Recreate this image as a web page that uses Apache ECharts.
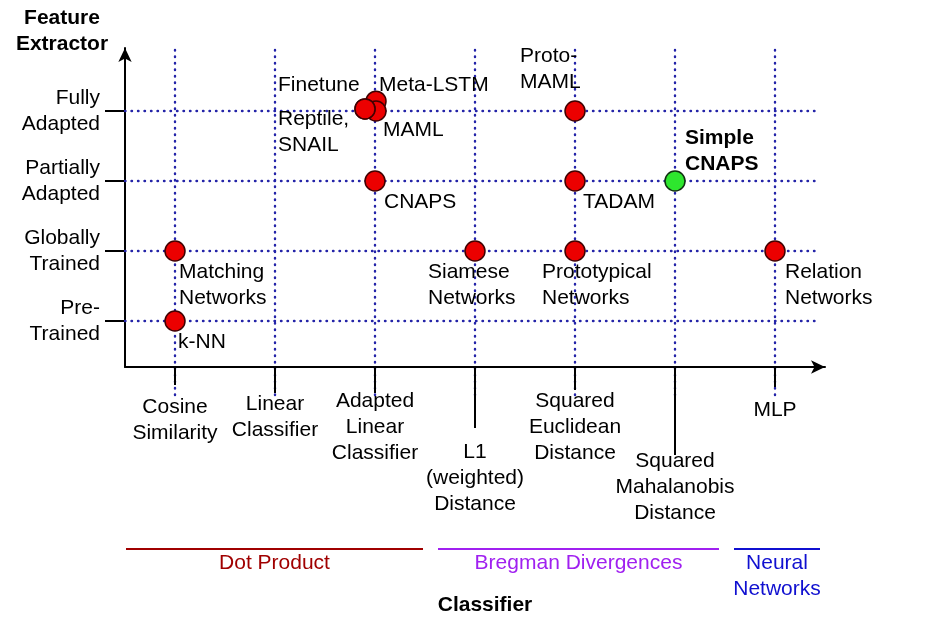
<!DOCTYPE html>
<html><head><meta charset="utf-8">
<script src="https://cdn.jsdelivr.net/npm/echarts@6/dist/echarts.min.js"></script>
<style>html,body{margin:0;padding:0;background:#fff}#c{width:931px;height:622px}</style>
</head><body><div id="c"></div>
<script>
// ---- data ----
const categories = ['Cosine\nSimilarity','Linear\nClassifier','Adapted\nLinear\nClassifier','L1\n(weighted)\nDistance','Squared\nEuclidean\nDistance','Squared\nMahalanobis\nDistance','MLP'];
const levels = ['Pre-\nTrained','Globally\nTrained','Partially\nAdapted','Fully\nAdapted'];
const pointNames = ['Matching\nNetworks','k-NN','Meta-LSTM','MAML','Finetune','Reptile,\nSNAIL','Proto-\nMAML','CNAPS','TADAM','Simple\nCNAPS','Siamese\nNetworks','Prototypical\nNetworks','Relation\nNetworks'];
const pointX = [0, 0, 2.01, 2.01, 1.9, 1.9, 4, 2, 4, 5, 3, 4, 6];
const pointY = [1, 0, 3.14, 3.0, 3.03, 3.03, 3, 2, 2, 2, 1, 1, 1];
const highlighted = ['Simple\nCNAPS'];
const groupNames = ['Dot Product','Bregman Divergences','Neural\nNetworks'];
const groupFrom = [-0.49, 2.63, 5.59];
const groupTo = [2.48, 5.44, 6.45];

// ---- layout / style (not data) ----
const FONT = 'Liberation Sans, Arial, sans-serif';
const labelOffsets = [[4,34],[3,21],[3,-16],[7,19],[-87,-24],[-87,23],[-55,-42],[9,21],[8,21],[10,-30],[-47,34],[-33,34],[10,34]];
const tickEnds = [-0.914, -1.029, -1.029, -1.529, -0.986, -1.914, -0.943];
const catLabelY = [-1.414, -1.371, -1.521, -2.25, -1.514, -2.379, -1.271];
const groupColors = ['#a00000', '#a020f0', '#1010d0'];
const groupBarY = -3.257;
const groupLabelY = [-3.457, -3.457, -3.65];
const X_MIN = -0.5, X_MAX = 6.5, Y_MIN = -0.657, Y_MAX = 3.9;
const GRID_X_END = 6.45, GRID_Y_BOTTOM = -1.057;

const dotted = {color: '#2424a8', width: 2.4, type: [0.5, 6], cap: 'round'};
const series = [];
// horizontal grid lines
levels.forEach((_, i) => series.push({type: 'line', silent: true, clip: false, symbol: 'none', z: 1,
  lineStyle: dotted, data: [[X_MIN, i], [GRID_X_END, i]]}));
// vertical grid lines
categories.forEach((_, i) => series.push({type: 'line', silent: true, clip: false, symbol: 'none', z: 1,
  lineStyle: dotted, data: [[i, GRID_Y_BOTTOM], [i, Y_MAX]]}));
// x ticks
categories.forEach((_, i) => series.push({type: 'line', silent: true, clip: false, symbol: 'none', z: 2,
  lineStyle: {color: '#000', width: 2}, data: [[i, Y_MIN], [i, tickEnds[i]]]}));
// category labels
series.push({type: 'scatter', silent: true, clip: false, symbolSize: 0, z: 3, itemStyle: {opacity: 1},
  data: categories.map((c, i) => ({value: [i, catLabelY[i]], name: c})),
  label: {show: true, position: 'inside', formatter: p => p.name, color: '#000', fontSize: 21, lineHeight: 26, fontFamily: FONT, align: 'center', verticalAlign: 'middle'}});
// group bars
groupNames.forEach((g, i) => series.push({type: 'line', silent: true, clip: false, symbol: 'none', z: 2,
  lineStyle: {color: groupColors[i], width: 2}, data: [[groupFrom[i], groupBarY], [groupTo[i], groupBarY]]}));
// group labels
series.push({type: 'scatter', silent: true, clip: false, symbolSize: 0, z: 3, itemStyle: {opacity: 1},
  data: groupNames.map((g, i) => ({value: [(groupFrom[i] + groupTo[i]) / 2, groupLabelY[i]], name: g,
    label: {color: groupColors[i]}})),
  label: {show: true, position: 'inside', formatter: p => p.name, fontSize: 21, lineHeight: 26, fontFamily: FONT, align: 'center', verticalAlign: 'middle'}});
// points
series.push({type: 'scatter', clip: false, symbolSize: 20, z: 5,
  data: pointNames.map((n, i) => {
    const hi = highlighted.includes(n);
    return {value: [pointX[i], pointY[i]], name: n,
      itemStyle: {opacity: 1, color: hi ? '#2ee62e' : '#ec0000', borderColor: hi ? '#103010' : '#400000', borderWidth: 1.5},
      label: {offset: labelOffsets[i], fontWeight: hi ? 'bold' : 'normal'}};
  }),
  label: {show: true, position: 'inside', formatter: p => p.name, color: '#000', fontSize: 21, lineHeight: 26, fontFamily: FONT, align: 'left', verticalAlign: 'middle'}});

const chart = echarts.init(document.getElementById('c'), null, {renderer: 'canvas'});
chart.setOption({
  animation: false,
  backgroundColor: '#fff',
  grid: {left: 125, right: 106, top: 48, bottom: 255, containLabel: false},
  xAxis: {type: 'value', min: X_MIN, max: X_MAX, splitLine: {show: false}, axisTick: {show: false}, axisLabel: {show: false},
    axisLine: {show: true, onZero: false, symbol: ['none', 'arrow'], symbolSize: [10, 14], lineStyle: {color: '#000', width: 2}}},
  yAxis: {type: 'value', min: Y_MIN, max: Y_MAX, splitLine: {show: false},
    axisLine: {show: true, onZero: false, symbol: ['none', 'arrow'], symbolSize: [10, 14], lineStyle: {color: '#000', width: 2}},
    axisTick: {show: true, customValues: [0, 1, 2, 3], length: 20, lineStyle: {color: '#000', width: 2}},
    axisLabel: {show: true, customValues: [0, 1, 2, 3], formatter: v => levels[Math.round(v)], margin: 25, color: '#000',
      fontSize: 21, lineHeight: 26, fontFamily: FONT, align: 'right'}},
  graphic: [
    {type: 'text', x: 62, y: 31, style: {text: 'Feature\nExtractor', align: 'center', verticalAlign: 'middle', fontSize: 21, lineHeight: 26, fontWeight: 'bold', fontFamily: FONT, fill: '#000'}},
    {type: 'text', x: 485, y: 605, style: {text: 'Classifier', align: 'center', verticalAlign: 'middle', fontSize: 21, fontWeight: 'bold', fontFamily: FONT, fill: '#000'}}
  ],
  series: series
});
</script></body></html>
